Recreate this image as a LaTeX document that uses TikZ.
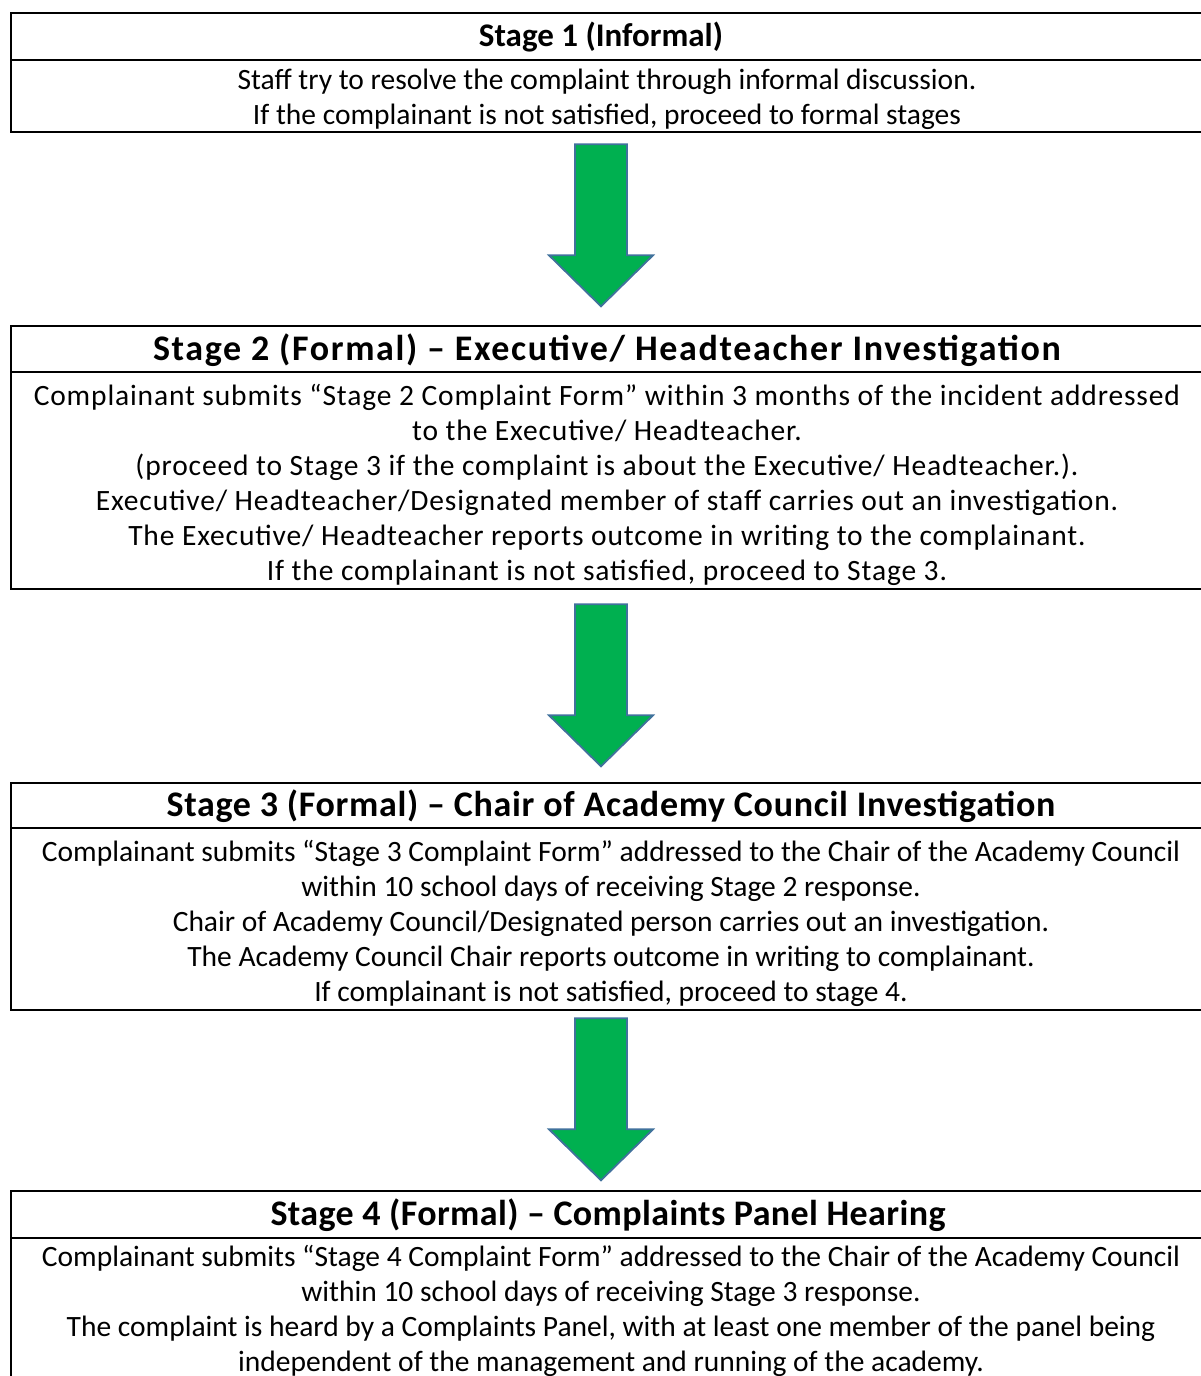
\documentclass[tikz,border=0pt]{standalone}
\usepackage{fontspec}
\setmainfont{Carlito}
\newfontfamily\spacedS{Carlito}[LetterSpace=2.9]
\newfontfamily\hdrtwo{Carlito}[LetterSpace=4.6]
\newfontfamily\hdrthree{Carlito}[LetterSpace=1.9]
\newfontfamily\hdrfour{Carlito}[LetterSpace=1.1]
\usetikzlibrary{calc}
\definecolor{arrowgreen}{HTML}{00B050}
\definecolor{arrowedge}{HTML}{41719C}
\tikzset{
  frame/.style={draw=black, line width=2.6bp, inner sep=0pt},
  sep/.style={draw=black, line width=2.6bp},
  hdr/.style={font=\fontsize{36bp}{42bp}\selectfont\bfseries, inner sep=0pt, align=center},
  bodytext/.style={font=\fontsize{29.5bp}{35bp}\selectfont, inner sep=0pt, align=center},
  bigarrow/.style={fill=arrowgreen, draw=arrowedge, line width=1.8bp, line join=miter}
}
\newcommand{\downarrowshape}[1]{%
  \path[bigarrow] (#1) ++(-26,0) -- ++(52,0) -- ++(0,111) -- ++(26,0) -- ++(-52,51) -- ++(-52,-51) -- ++(26,0) -- cycle;}
\begin{document}
\begin{tikzpicture}[x=1bp,y=-1bp]
\useasboundingbox (0,0) rectangle (1200,1376);
% Stage 1
\node[frame, minimum width=1196bp, minimum height=119bp] (box1) at (609,72.5) {};
\draw[sep] (11,60) -- (1207,60);
\node[hdr, font=\fontsize{33bp}{40bp}\selectfont\bfseries] (h1) at (601,37.5) {Stage 1 (Informal)};
\node[bodytext] (t1) at (607,99) {Staff try to resolve the complaint through informal discussion.\\If the complainant is not satisfied, proceed to formal stages};
% arrow 1
\coordinate (a1) at ($(box1.south)+(-8,11)$);
\downarrowshape{a1}
% Stage 2
\node[frame, minimum width=1196bp, minimum height=263bp] (box2) at (609,457.5) {};
\draw[sep] (11,372) -- (1207,372);
\node[hdr, font=\fontsize{36bp}{42bp}\hdrtwo\bfseries] (h2) at (607,350) {Stage 2 (Formal) – Executive/ Headteacher Investigation};
\node[bodytext, font=\fontsize{29.5bp}{35bp}\spacedS] (t2) at (607,484.5) {Complainant submits “Stage 2 Complaint Form” within 3 months of the incident addressed\\to the Executive/ Headteacher.\\(proceed to Stage 3 if the complaint is about the Executive/ Headteacher.).\\Executive/ Headteacher/Designated member of staff carries out an investigation.\\The Executive/ Headteacher reports outcome in writing to the complainant.\\If the complainant is not satisfied, proceed to Stage 3.};
% arrow 2
\coordinate (a2) at ($(box2.south)+(-8,14)$);
\downarrowshape{a2}
% Stage 3
\node[frame, minimum width=1196bp, minimum height=227bp] (box3) at (609,896.5) {};
\draw[sep] (11,828) -- (1207,828);
\node[hdr, font=\fontsize{36bp}{42bp}\hdrthree\bfseries] (h3) at (611,806.5) {Stage 3 (Formal) – Chair of Academy Council Investigation};
\node[bodytext] (t3) at (611,923) {Complainant submits “Stage 3 Complaint Form” addressed to the Chair of the Academy Council\\within 10 school days of receiving Stage 2 response.\\Chair of Academy Council/Designated person carries out an investigation.\\The Academy Council Chair reports outcome in writing to complainant.\\If complainant is not satisfied, proceed to stage 4.};
% arrow 3
\coordinate (a3) at ($(box3.south)+(-8,7)$);
\downarrowshape{a3}
% Stage 4
\node[frame, minimum width=1196bp, minimum height=240bp] (box4) at (609,1311) {};
\draw[sep] (11,1238) -- (1207,1238);
\node[hdr, font=\fontsize{36bp}{42bp}\hdrfour\bfseries] (h4) at (608,1215.5) {Stage 4 (Formal) – Complaints Panel Hearing};
\node[bodytext] (t4) at (611,1311) {Complainant submits “Stage 4 Complaint Form” addressed to the Chair of the Academy Council\\within 10 school days of receiving Stage 3 response.\\The complaint is heard by a Complaints Panel, with at least one member of the panel being\\independent of the management and running of the academy.};
\end{tikzpicture}
\end{document}
